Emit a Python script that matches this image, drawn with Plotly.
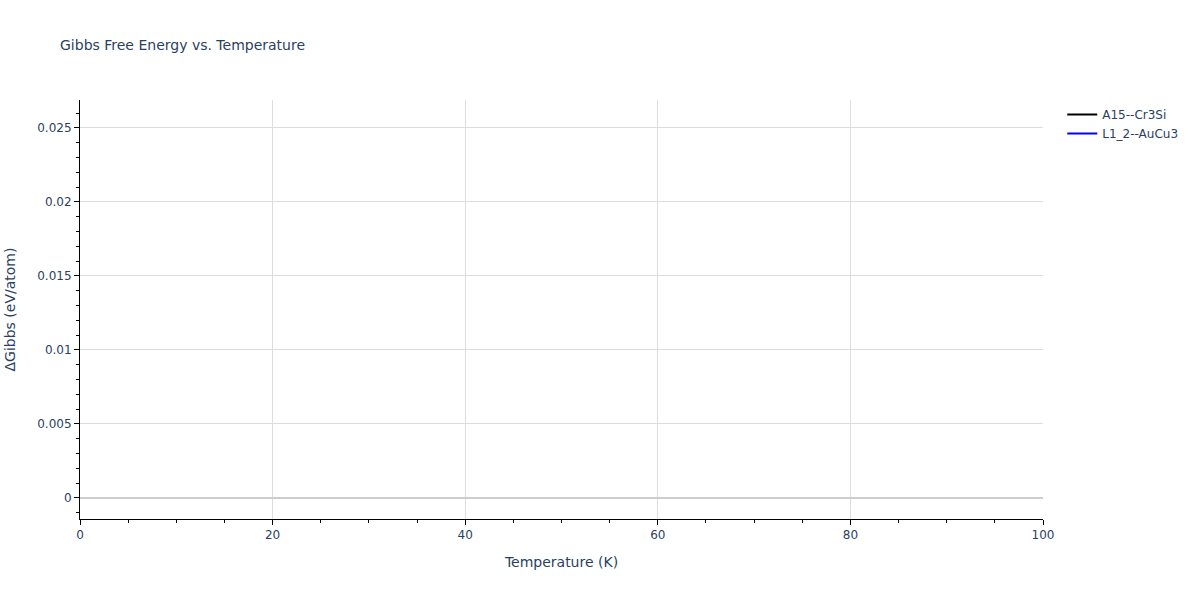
import plotly.graph_objects as go

series_names = ["A15--Cr3Si", "L1_2--AuCu3"]
series_colors = ["black", "blue"]
# No visible data points in the reference; traces carry only null values
temperature_a15 = [None]
gibbs_a15 = [None]
temperature_l12 = [None]
gibbs_l12 = [None]

xs = [temperature_a15, temperature_l12]
ys = [gibbs_a15, gibbs_l12]

fig = go.Figure()
for name, color, x, y in zip(series_names, series_colors, xs, ys):
    fig.add_trace(go.Scatter(x=x, y=y, mode="lines", name=name,
                             line=dict(color=color, width=2)))

fig.update_layout(
    width=1200, height=600,
    template="plotly_white",
    title=dict(text="Gibbs Free Energy vs. Temperature", x=0.05, y=0.933,
               font=dict(size=14)),
    margin=dict(l=80, r=157, t=100, b=81),
    legend=dict(x=1.02, y=1, font=dict(size=12)),
    font=dict(family="DejaVu Sans, Verdana, sans-serif", color="#2a3f5f"),
    showlegend=True,
)
fig.update_xaxes(title_text="Temperature (K)", range=[0, 100],
                 showline=True, linecolor="black", ticks="outside",
                 tickcolor="black", dtick=20, automargin=False,
                 minor=dict(ticks="outside", dtick=5, tickcolor="black", showgrid=False),
                 gridcolor="#dddddd", zeroline=False)
fig.update_yaxes(title_text="ΔGibbs (eV/atom)", range=[-0.00142, 0.02689],
                 showline=True, linecolor="black", ticks="outside",
                 tickcolor="black", dtick=0.005, automargin=False,
                 title_standoff=18,
                 minor=dict(ticks="outside", dtick=0.001, tickcolor="black", showgrid=False),
                 gridcolor="#dddddd", zeroline=True, zerolinecolor="#cccccc",
                 zerolinewidth=2)

fig.write_html("out.html", config={"displayModeBar": False},
               post_script="document.body.style.margin='0';")
